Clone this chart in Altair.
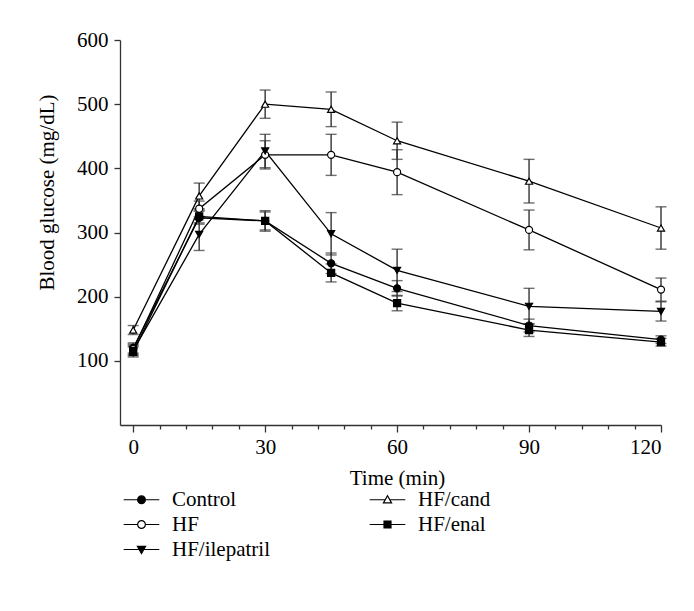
import altair as alt
import pandas as pd

# ---------------- data ----------------
times = [0, 15, 30, 45, 60, 90, 120]
series_names = ["Control", "HF", "HF/ilepatril", "HF/cand", "HF/enal"]

control_mean = [120, 323, 318, 252, 213, 155, 133]
control_err = [8, 10, 16, 16, 12, 10, 6]
hf_mean = [118, 337, 421, 421, 394, 304, 211]
hf_err = [8, 12, 22, 32, 35, 31, 18]
ilep_mean = [116, 297, 427, 298, 241, 185, 177]
ilep_err = [8, 25, 26, 33, 33, 28, 15]
cand_mean = [148, 357, 500, 492, 443, 380, 307]
cand_err = [7, 20, 22, 27, 29, 34, 33]
enal_mean = [114, 325, 318, 237, 190, 148, 129]
enal_err = [8, 10, 14, 14, 12, 10, 6]

x_all_ticks = [0, 6, 12, 18, 24, 30, 36, 42, 48, 54, 60, 66, 72, 78, 84, 90,
               96, 102, 108, 114, 120]
y_ticks = [100, 200, 300, 400, 500, 600]

# ---------------- table ----------------
means = [control_mean, hf_mean, ilep_mean, cand_mean, enal_mean]
errs = [control_err, hf_err, ilep_err, cand_err, enal_err]
rows = []
for name, mv, ev in zip(series_names, means, errs):
    for t, m, e in zip(times, mv, ev):
        rows.append({"series": name, "time": t, "glucose": m,
                     "lo": m - e, "hi": m + e})
df = pd.DataFrame(rows)

# styles
plot_shapes = ["circle", "circle", "triangle-down", "triangle-up", "square"]
plot_fills = ["black", "white", "black", "white", "black"]
plot_strokes = ["black", "black", "black", "black", "black"]

# legend symbols: short line with the marker in the middle
circ = "M1,0A1,1,0,1,1,-1,0A1,1,0,1,1,1,0Z"
L = 4.6
legend_paths = [
    f"M-{L},0H-1M1,0H{L}M" + circ[1:],
    f"M-{L},0H-1M1,0H{L}M" + circ[1:],
    f"M-{L},0H-0.6M0.6,0H{L}M-1.05,-0.8L1.05,-0.8L0,1.05Z",
    f"M-{L},0H-0.6M0.6,0H{L}M0,-1.05L1.05,0.8L-1.05,0.8Z",
    f"M-{L},0H-0.9M0.9,0H{L}M-0.9,-0.9H0.9V0.9H-0.9Z",
]

x_axis = alt.Axis(
    values=x_all_ticks,
    labelExpr="datum.value % 30 === 0 ? datum.label : ''",
    labelOverlap=False,
    tickSize={"condition": {"test": "datum.value % 30 === 0", "value": 7}, "value": 4},
    labelPadding=4,
    title="Time (min)",
    titleX=277,
    titleY=53,
    titleBaseline="middle",
    titleAlign="center",
)
x_scale = alt.Scale(domain=[-3, 120], nice=False, zero=False)
x_enc = alt.X("time:Q", scale=x_scale, axis=x_axis)

y_scale = alt.Scale(domain=[0, 600], nice=False, zero=True)
y_axis = alt.Axis(
    values=y_ticks,
    tickSize=6,
    labelPadding=6,
    title="Blood glucose (mg/dL)",
    titleX=-73,
    titleY=152,
    titleAngle=270,
    titleAlign="center",
    titleBaseline="middle",
)

def yq(field):
    return alt.Y(field, scale=y_scale, axis=y_axis)

base = alt.Chart(df)

err_rule = base.mark_rule(color="#333333", strokeWidth=1.4).encode(
    x=x_enc, y=yq("lo:Q"), y2="hi:Q", detail="series:N",
)
cap_lo = base.mark_tick(color="#333333", thickness=1.4, size=11, orient="horizontal").encode(
    x=x_enc, y=yq("lo:Q"))
cap_hi = base.mark_tick(color="#333333", thickness=1.4, size=11, orient="horizontal").encode(
    x=x_enc, y=yq("hi:Q"))

lines = base.mark_line(color="black", strokeWidth=1.3).encode(
    x=x_enc, y=yq("glucose:Q"), detail="series:N",
)

point_layers = []
for name, shp, fl in zip(series_names, plot_shapes, plot_fills):
    point_layers.append(
        base.transform_filter(alt.datum.series == name)
        .mark_point(shape=shp, filled=True, fill=fl, stroke="black",
                    strokeWidth=1.2, opacity=1, size=50)
        .encode(x=x_enc, y=yq("glucose:Q"))
    )

leg = alt.Legend(
    title=None,
    orient="none",
    legendX=11,
    legendY=449,
    columns=2,
    columnPadding=97,
    rowPadding=3,
    symbolSize=60,
    symbolStrokeColor="black",
    symbolStrokeWidth=1.2,
    labelOffset=20,
    labelFontSize=21,
    labelFont="Liberation Serif",
    labelColor="black",
    labelLimit=300,
)

legend_layer = base.transform_filter("false").mark_point(
    filled=False, strokeWidth=1.2, opacity=1, size=60
).encode(
    shape=alt.Shape("series:N", scale=alt.Scale(domain=series_names, range=legend_paths), legend=leg),
    fill=alt.Fill("series:N", scale=alt.Scale(domain=series_names, range=plot_fills), legend=leg),
    stroke=alt.Stroke("series:N", scale=alt.Scale(domain=series_names, range=plot_strokes), legend=leg),
)

chart = (
    alt.layer(err_rule, cap_lo, cap_hi, lines, *point_layers, legend_layer)
    .properties(
        width=541,
        height=385,
        padding={"left": 112, "top": 32, "right": 25, "bottom": 178},
        autosize="none",
    )
    .configure(font="Liberation Serif")
    .configure_axis(
        labelFont="Liberation Serif",
        titleFont="Liberation Serif",
        labelFontSize=21,
        titleFontSize=21,
        titleFontWeight="normal",
        labelColor="black",
        titleColor="black",
        domainColor="#333333",
        tickColor="#333333",
        domainWidth=1.3,
        tickWidth=1.3,
        grid=False,
        labelOverlap=False,
    )
    .configure_view(stroke=None)
)

chart.save("out.html", embed_options={"renderer": "svg", "actions": False})
